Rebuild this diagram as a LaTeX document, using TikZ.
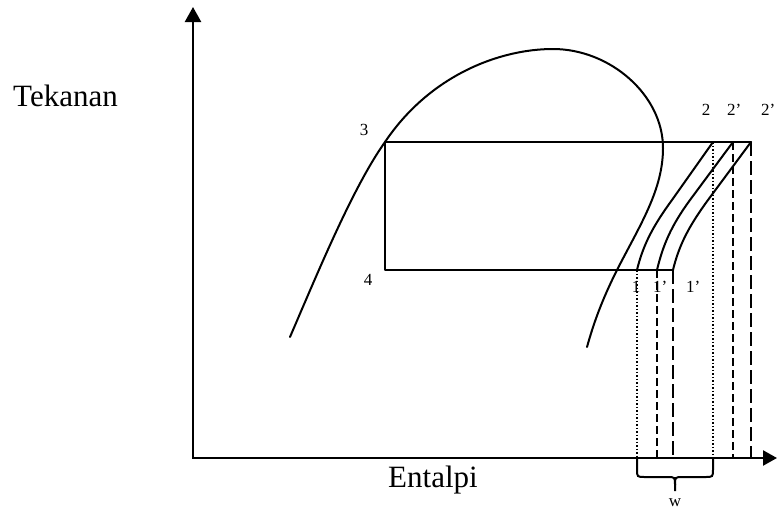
\documentclass[tikz,border=0pt]{standalone}
\usepackage{fontspec}
\setmainfont{Liberation Serif}
\usetikzlibrary{arrows.meta}
\begin{document}
\begin{tikzpicture}[x=1pt,y=-1pt,
  line/.style={line width=2pt, line join=round, line cap=round},
  big/.style={font=\fontsize{31}{36}\selectfont, inner sep=0pt},
  lab/.style={font=\fontsize{17}{20}\selectfont, inner sep=0pt},
  dotv/.style={line width=1.7pt, dash pattern=on 1.7pt off 1.8pt},
  shortdash/.style={line width=2.1pt, dash pattern=on 8pt off 4pt},
  longdash/.style={line width=2.1pt, dash pattern=on 14pt off 5pt}]
\useasboundingbox (0,0) rectangle (777,512);
% axes
\coordinate (O) at (193,458);
\coordinate (Ytip) at (193,7);
\coordinate (Xtip) at (777,458);
\draw[line width=2.4pt, {Triangle[width=16pt,length=15pt]}-{Triangle[width=15pt,length=14pt]}] (Ytip) -- (O) -- (Xtip);
% labels
\node[big, anchor=base west] (tek) at (13,106) {Tekanan};
\node[big, anchor=base west] (ent) at (388,487) {Entalpi};
\node[lab, anchor=base] (l3) at (364,135) {3};
\node[lab, anchor=base] (l4) at (368,285) {4};
\node[lab, anchor=base] (l2) at (706,115) {2};
\node[lab, anchor=base west] (l2a) at (727,115) {2’};
\node[lab, anchor=base west] (l2b) at (761,115) {2’};
\node[lab, anchor=base] (l1) at (636,292) {1};
\node[lab, anchor=base west] (l1a) at (653,292) {1’};
\node[lab, anchor=base west] (l1b) at (686,292) {1’};
\node[lab, anchor=base] (lw) at (675,506) {w};
% cycle points
\coordinate (p3) at (385,142);
\coordinate (p4) at (385,270);
\coordinate (p1) at (637,270);
\coordinate (p1a) at (657,270);
\coordinate (p1b) at (673,270);
\coordinate (p2) at (713,142);
\coordinate (p2a) at (733,142);
\coordinate (p2b) at (751,142);
\coordinate (b1) at (637,458);
\coordinate (b1a) at (657,458);
\coordinate (b1b) at (673,458);
\coordinate (b2) at (713,458);
\coordinate (b2a) at (733,458);
\coordinate (b2b) at (751,458);
% saturation dome
\coordinate (d0) at (290,337);
\coordinate (dtop) at (553,49);
\coordinate (dr) at (663,148);
\coordinate (dx) at (617,270);
\coordinate (dend) at (587,347);
\draw[line] (d0) .. controls (318,272) and (353,187) .. (p3)
  .. controls (430,75) and (500,49) .. (dtop)
  .. controls (610,49) and (663,95) .. (dr)
  .. controls (663,190) and (640,225) .. (dx)
  .. controls (602,300) and (594,322) .. (dend);
% cycle
\draw[line] (p2b) -- (p3) -- (p4) -- (p1b);
\draw[line] (p1) .. controls (643,245) and (653,226) .. (672,200) -- (p2);
\draw[line] (p1a) .. controls (663,245) and (671,226) .. (690,200) -- (p2a);
\draw[line] (p1b) .. controls (679,245) and (689,226) .. (708,200) -- (p2b);
% vertical projections
\draw[dotv] (p1) -- (b1);
\draw[shortdash] (p1a) -- (b1a);
\draw[longdash] (p1b) -- (b1b);
\draw[dotv] (p2) -- (b2);
\draw[shortdash] (p2a) -- (b2a);
\draw[longdash] (p2b) -- (b2b);
% brace
\coordinate (bm) at (675,491);
\draw[line width=2pt] (b1) -- (637,469) .. controls (637,477) .. (645,477) -- (667,477) .. controls (675,477) .. (675,485) -- (bm);
\draw[line width=2pt] (b2) -- (713,469) .. controls (713,477) .. (705,477) -- (683,477) .. controls (675,477) .. (675,485);
\end{tikzpicture}
\end{document}
